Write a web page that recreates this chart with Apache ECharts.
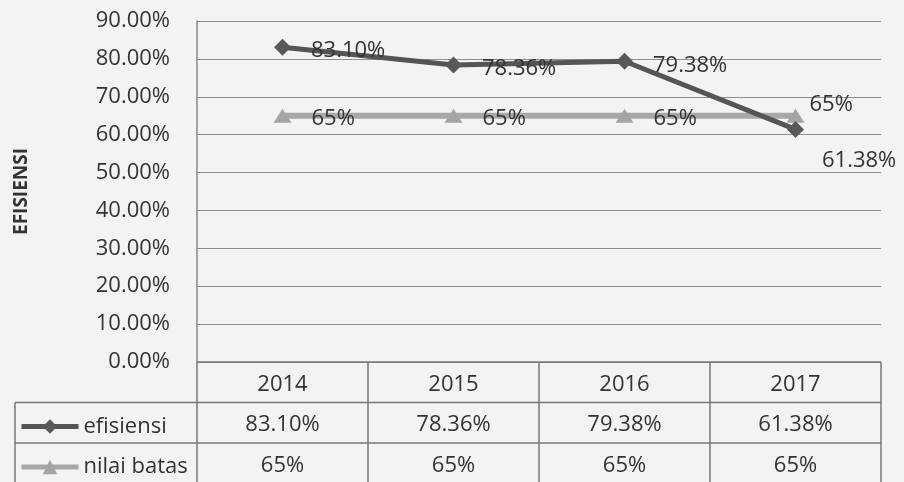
<!DOCTYPE html>
<html>
<head>
<meta charset="utf-8">
<script src="https://cdn.jsdelivr.net/npm/echarts@6/dist/echarts.min.js"></script>
<style>
  html, body { margin: 0; padding: 0; background: #f3f3f1; }
  #main { width: 904px; height: 482px; }
</style>
</head>
<body>
<div id="main"></div>
<script>
// data
var years = ['2014', '2015', '2016', '2017'];
var efisiensi = [83.10, 78.36, 79.38, 61.38];
var nilaiBatas = [65, 65, 65, 65];
var yTicks = [0, 10, 20, 30, 40, 50, 60, 70, 80, 90];
var seriesNames = ['efisiensi', 'nilai batas'];

// layout (plot area + data table under it)
var PLOT_L = 197, PLOT_R = 881, PLOT_T = 21, AXIS_Y = 362;
var ROW_H = 40.5, TABLE_L = 15, PAGE_H = 482;
var FONT = '"Open Sans", "Liberation Sans", sans-serif';
var TXT = '#333333';
var TABLE_LINE = '#777777';
var COL_EFF = '#555555', COL_BATAS = '#a8a8a8';

var colW = (PLOT_R - PLOT_L) / years.length;

// table borders
var tableLines = [];
function hline(y, x1, x2) {
    tableLines.push({type: 'line', z: 50, silent: true,
        shape: {x1: x1, y1: y, x2: x2, y2: y},
        style: {stroke: TABLE_LINE, lineWidth: 1.5}});
}
function vline(x, y1, y2) {
    tableLines.push({type: 'line', z: 50, silent: true,
        shape: {x1: x, y1: y1, x2: x, y2: y2},
        style: {stroke: TABLE_LINE, lineWidth: 1.5}});
}
hline(AXIS_Y, PLOT_L, PLOT_R);
hline(AXIS_Y + ROW_H, TABLE_L, PLOT_R);
hline(AXIS_Y + ROW_H * 2, TABLE_L, PLOT_R);
vline(TABLE_L, AXIS_Y + ROW_H, PAGE_H);
for (var c = 0; c <= years.length; c++) {
    vline(PLOT_L + colW * c, AXIS_Y, PAGE_H);
}

// one legend per table row (legend key sits in the row's first cell)
var legendColors = [COL_EFF, COL_BATAS];
var legends = seriesNames.map(function (name, i) {
    return {
        data: [name],
        left: 14,
        top: AXIS_Y + ROW_H * (i + 1) + 6,
        itemWidth: 57,
        itemHeight: 18,
        lineStyle: {width: 5, color: legendColors[i]},
        textStyle: {fontFamily: FONT, fontSize: 22, color: TXT, lineHeight: 26}
    };
});

var myChart = echarts.init(document.getElementById('main'));
var option = {
    backgroundColor: '#f3f3f1',
    animation: false,
    textStyle: {fontFamily: FONT},
    grid: {
        left: PLOT_L,
        right: 904 - PLOT_R,
        top: PLOT_T,
        bottom: PAGE_H - AXIS_Y,
        containLabel: false,
        outerBoundsMode: 'none'
    },
    legend: legends,
    xAxis: {
        type: 'category',
        data: years,
        boundaryGap: true,
        axisLine: {show: false},
        axisTick: {show: false},
        axisLabel: {
            margin: 2,
            fontFamily: FONT,
            fontSize: 22,
            color: TXT,
            lineHeight: ROW_H,
            formatter: function (val, idx) {
                return val + '\n' + efisiensi[idx].toFixed(2) + '%\n' + nilaiBatas[idx] + '%';
            }
        }
    },
    yAxis: {
        type: 'value',
        min: yTicks[0],
        max: yTicks[yTicks.length - 1],
        interval: 10,
        name: 'EFISIENSI',
        nameLocation: 'middle',
        nameRotate: 90,
        nameGap: 166,
        nameTextStyle: {fontFamily: FONT, fontSize: 19, fontWeight: 'bold', color: TXT},
        axisLine: {show: true, lineStyle: {color: '#8a8a8a', width: 1.5}},
        axisTick: {show: false},
        splitLine: {lineStyle: {color: '#8f8f8f', width: 1.2}},
        axisLabel: {
            margin: 27,
            fontFamily: FONT,
            fontSize: 22,
            color: TXT,
            formatter: function (v) { return v.toFixed(2) + '%'; }
        }
    },
    series: [
        {
            name: seriesNames[0],
            type: 'line',
            data: efisiensi.map(function (v, i) {
                if (i === efisiensi.length - 1) {
                    return {value: v, label: {offset: [-2, 31]}};
                }
                return v;
            }),
            z: 4,
            symbol: 'diamond',
            symbolSize: 17,
            lineStyle: {color: COL_EFF, width: 5},
            itemStyle: {color: '#595959'},
            label: {
                show: true,
                position: 'right',
                distance: 20,
                offset: [0, 4],
                fontFamily: FONT,
                fontSize: 22,
                color: TXT,
                formatter: function (p) { return p.value.toFixed(2) + '%'; }
            }
        },
        {
            name: seriesNames[1],
            type: 'line',
            data: nilaiBatas.map(function (v, i) {
                if (i === nilaiBatas.length - 1) {
                    return {value: v, label: {offset: [-15, -11]}};
                }
                return v;
            }),
            z: 3,
            symbol: 'triangle',
            symbolSize: [18, 14],
            lineStyle: {color: COL_BATAS, width: 6},
            itemStyle: {color: '#a4a4a4'},
            label: {
                show: true,
                position: 'right',
                distance: 20,
                offset: [0, 3],
                fontFamily: FONT,
                fontSize: 22,
                color: TXT,
                formatter: function (p) { return p.value + '%'; }
            }
        }
    ],
    graphic: tableLines
};
myChart.setOption(option);
</script>
</body>
</html>
